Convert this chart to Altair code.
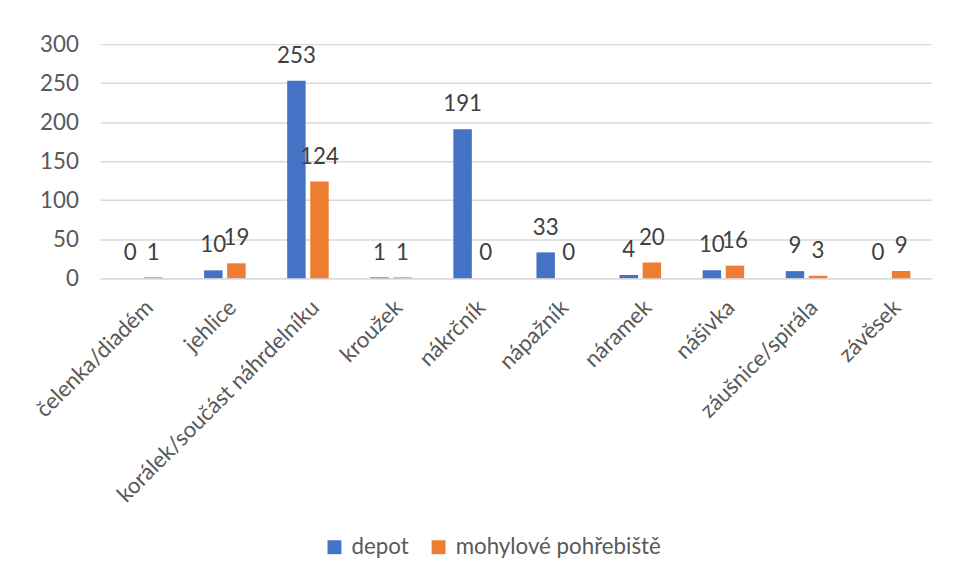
import altair as alt
import pandas as pd

categories = ["čelenka/diadém", "jehlice", "korálek/součást náhrdelníku", "kroužek",
              "nákrčník", "nápažník", "náramek", "nášivka", "záušnice/spirála", "závěsek"]
series = ["depot", "mohylové pohřebiště"]
depot = [0, 10, 253, 1, 191, 33, 4, 10, 9, 0]
mohylove = [1, 19, 124, 1, 0, 0, 20, 16, 3, 9]
colors = ["#4472C4", "#ED7D31"]
y_ticks = [0, 50, 100, 150, 200, 250, 300]

rows = []
for c, d, m in zip(categories, depot, mohylove):
    rows.append({"kategorie": c, "serie": series[0], "pocet": d})
    rows.append({"kategorie": c, "serie": series[1], "pocet": m})
df = pd.DataFrame(rows)

FONT = "Lato"
FS = 22.5

x_enc = alt.X("kategorie:N", sort=categories, title=None,
              scale=alt.Scale(paddingInner=0.5, paddingOuter=0.25),
              axis=alt.Axis(labelAngle=-45, labelAlign="right", labelBaseline="top",
                            labelPadding=18, labelFontSize=FS, labelColor="#595959",
                            labelFont=FONT, labelLimit=500, ticks=False,
                            domain=True, domainColor="#D9D9D9", domainWidth=1.5,
                            labelOverlap=False))
xo_enc = alt.XOffset("serie:N", sort=series,
                     scale=alt.Scale(paddingInner=0.2, paddingOuter=0))
y_enc = alt.Y("pocet:Q", title=None,
              scale=alt.Scale(domain=[0, 300], nice=False, zero=True),
              axis=alt.Axis(values=y_ticks, tickCount=7, grid=True, gridColor="#D9D9D9",
                            gridWidth=1.5, domain=False, ticks=False, labelPadding=22,
                            labelOverlap=False, labelFontSize=FS, labelColor="#595959",
                            labelFont=FONT))
color_enc = alt.Color("serie:N", sort=series, title=None,
                      scale=alt.Scale(domain=series, range=colors),
                      legend=alt.Legend(orient="none", direction="horizontal",
                                        legendX=225, legendY=496,
                                        symbolType="square", symbolSize=196,
                                        symbolStrokeWidth=0, symbolOpacity=1,
                                        labelFontSize=FS, labelColor="#595959",
                                        labelFont=FONT, labelLimit=500, columnPadding=18,
                                        symbolOffset=0, labelOffset=6))

base = alt.Chart(df).encode(x=x_enc, xOffset=xo_enc, y=y_enc)
bars = base.mark_bar(strokeWidth=0).encode(color=color_enc)
labels = base.mark_text(baseline="alphabetic", dy=-18, fontSize=FS, font=FONT,
                        color="#404040").encode(text="pocet:Q")

chart = alt.layer(bars, labels).properties(
    width=838, height=236,
    autosize=alt.AutoSizeParams(type="none"),
    padding={"left": 93, "top": 34, "right": 16, "bottom": 303},
    background="white",
).configure_view(stroke=None)

chart.save("out.html", embed_options={"renderer": "svg", "actions": False})
